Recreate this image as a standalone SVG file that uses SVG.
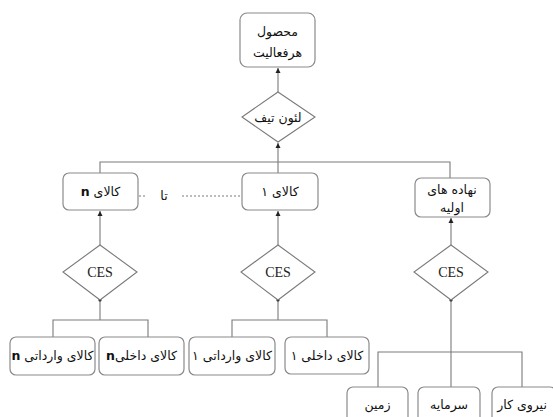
<svg xmlns="http://www.w3.org/2000/svg" width="553" height="417" viewBox="0 0 553 417">
<style>
.box{fill:#fff;stroke:#8a8a8a;stroke-width:1.2}
.dia{fill:#fff;stroke:#7a7a7a;stroke-width:1.1}
.ln{fill:none;stroke:#7a7a7a;stroke-width:1.1}
.fa{font-family:"DejaVu Sans",sans-serif;font-size:12.5px;fill:#111;text-anchor:middle;direction:rtl;unicode-bidi:embed}
.ces{font-family:"Liberation Serif",serif;font-size:14px;fill:#222;text-anchor:middle}
.b{font-weight:bold}
</style>
<defs>
<marker id="ar" markerWidth="6" markerHeight="6" refX="5" refY="3" orient="auto" markerUnits="userSpaceOnUse">
<path d="M0,0.5 L5,3 L0,5.5 Z" fill="#222"/>
</marker>
</defs>
<rect width="553" height="417" fill="#fff"/>
<g id="connectors">
<line class="ln" x1="278" y1="92" x2="278" y2="68" marker-end="url(#ar)"/>
<line class="ln" x1="278" y1="162" x2="278" y2="143" marker-end="url(#ar)"/>
<polyline class="ln" points="100,173 100,162 450,162 450,178"/>
<line class="ln" x1="278" y1="162" x2="278" y2="173"/>
<line class="ln" x1="182" y1="196" x2="241" y2="196" stroke-dasharray="2,2"/>
<line class="ln" x1="139" y1="196" x2="145" y2="196" stroke-dasharray="2,2"/>
<line class="ln" x1="100" y1="245" x2="100" y2="211" marker-end="url(#ar)"/>
<line class="ln" x1="278" y1="245" x2="278" y2="211" marker-end="url(#ar)"/>
<line class="ln" x1="451" y1="245" x2="451" y2="218" marker-end="url(#ar)"/>
<polyline class="ln" points="53,337 53,320 148,320 148,337"/>
<line class="ln" x1="100" y1="300" x2="100" y2="320"/>
<polyline class="ln" points="232,337 232,320 327,320 327,337"/>
<line class="ln" x1="278" y1="300" x2="278" y2="320"/>
<polyline class="ln" points="378,387 378,352 522,352 522,387"/>
<line class="ln" x1="451" y1="300" x2="451" y2="387"/>
<circle cx="100" cy="300" r="1.6" fill="#222"/>
<circle cx="278" cy="300" r="1.6" fill="#222"/>
<circle cx="451" cy="300" r="1.6" fill="#222"/>
</g>
<g id="output">
<rect class="box" x="240" y="13" width="75" height="54" rx="7"/>
<text class="fa" x="277.5" y="36">محصول</text>
<text class="fa" x="277.5" y="57">هرفعالیت</text>
</g>
<g id="leontief">
<polygon class="dia" points="278,92 315,117 278,142 242,117"/>
<text class="fa" x="278" y="122">لئون تیف</text>
</g>
<g id="good-n">
<rect class="box" x="63" y="173" width="75" height="37" rx="6"/>
<text class="fa" x="100.5" y="196">کالای <tspan class="b">n</tspan></text>
</g>
<g id="to-label">
<text class="fa" x="164" y="200">تا</text>
</g>
<g id="good-1">
<rect class="box" x="242" y="173" width="76" height="37" rx="6"/>
<text class="fa" x="280" y="196">کالای ۱</text>
</g>
<g id="primary">
<rect class="box" x="415" y="178" width="75" height="39" rx="6"/>
<text class="fa" x="452" y="194">نهاده های</text>
<text class="fa" x="452" y="212">اولیه</text>
</g>
<g id="ces-n">
<polygon class="dia" points="100,245 137,272 100,300 63,272"/>
<text class="ces" x="100" y="277">CES</text>
</g>
<g id="ces-1">
<polygon class="dia" points="278,245 315,272 278,300 241,272"/>
<text class="ces" x="278" y="277">CES</text>
</g>
<g id="ces-p">
<polygon class="dia" points="451,245 488,272 451,300 414,272"/>
<text class="ces" x="451" y="277">CES</text>
</g>
<g id="import-n">
<rect class="box" x="10" y="337" width="85" height="38" rx="6"/>
<text class="fa" x="52.5" y="360">کالای وارداتی <tspan class="b">n</tspan></text>
</g>
<g id="domestic-n">
<rect class="box" x="99" y="337" width="85" height="38" rx="6"/>
<text class="fa" x="141.5" y="360">کالای داخلی<tspan class="b">n</tspan></text>
</g>
<g id="import-1">
<rect class="box" x="189" y="337" width="86" height="38" rx="6"/>
<text class="fa" x="232" y="360">کالای وارداتی ۱</text>
</g>
<g id="domestic-1">
<rect class="box" x="285" y="337" width="84" height="37" rx="6"/>
<text class="fa" x="327" y="360">کالای داخلی ۱</text>
</g>
<g id="land">
<rect class="box" x="347" y="387" width="61" height="36" rx="6"/>
<text class="fa" x="377.5" y="409">زمین</text>
</g>
<g id="capital">
<rect class="box" x="418" y="387" width="62" height="36" rx="6"/>
<text class="fa" x="449" y="409">سرمایه</text>
</g>
<g id="labor">
<rect class="box" x="492" y="387" width="64" height="36" rx="6"/>
<text class="fa" x="522" y="409">نیروی کار</text>
</g>
</svg>
